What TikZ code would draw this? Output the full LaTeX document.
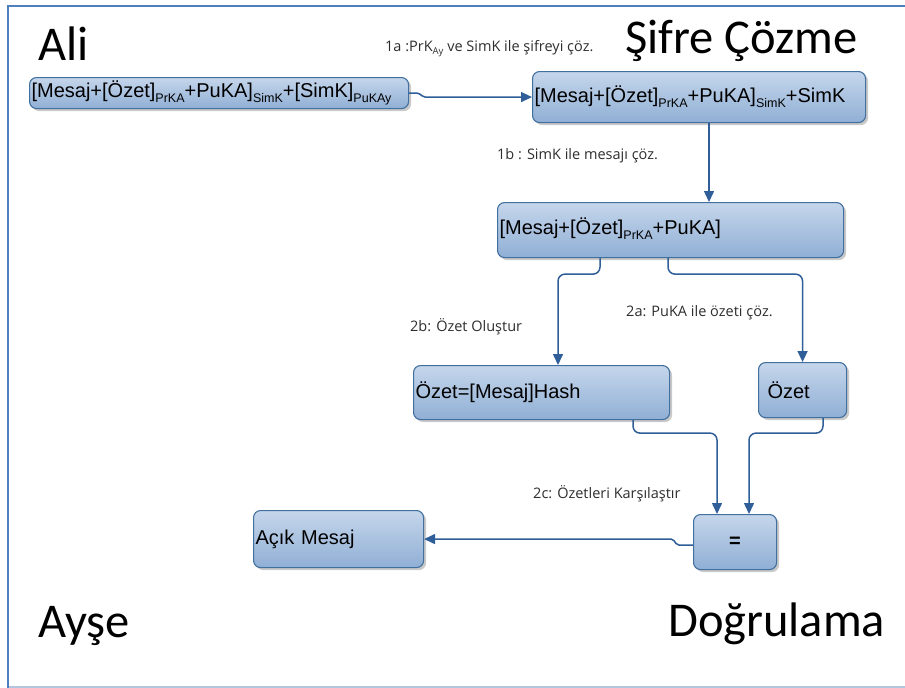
\documentclass[tikz,border=0pt]{standalone}
\usepackage{fontspec}
\setmainfont{Liberation Sans}
\newfontfamily\titlefont{Carlito}
\newfontfamily\notefont{Open Sans}
\newfontfamily\boxfont{Liberation Sans}
\usetikzlibrary{arrows.meta,shadows,calc}
\definecolor{framecol}{HTML}{4F7FBF}
\definecolor{framelight}{HTML}{B4C6DE}
\definecolor{boxline}{HTML}{41709F}
\definecolor{boxtop}{HTML}{C5D6EB}
\definecolor{boxbot}{HTML}{90AFD5}
\definecolor{conncol}{HTML}{2F5E99}
\definecolor{notecol}{HTML}{2E2E2E}
\newcommand{\lowtx}[1]{\raisebox{-0.25em}{\fontsize{12.5}{13}\selectfont #1}}
\newcommand{\lowsm}[1]{\raisebox{-0.25em}{\fontsize{9.5}{10}\selectfont #1}}
\tikzset{
  box/.style={draw=boxline, line width=1.1pt, rounded corners=7pt,
    top color=boxtop, bottom color=boxbot,
    drop shadow={shadow xshift=2.5pt, shadow yshift=-2.5pt, opacity=0.35, fill=black!60},
    font=\boxfont\fontsize{20}{23}\selectfont, anchor=north west,
    inner xsep=2pt, inner ysep=0pt, align=left},
  conn/.style={draw=conncol, line width=1.5pt, rounded corners=7pt,
    -{Triangle[length=11pt,width=10pt]}},
  title/.style={font=\titlefont\fontsize{48.5}{56}\selectfont, anchor=base west, inner sep=0pt},
  note/.style={font=\notefont\fontsize{14.5}{17}\selectfont, text=notecol, anchor=base west, inner sep=0pt}
}
\begin{document}
\begin{tikzpicture}[x=1pt,y=-1pt]
\useasboundingbox (0,0) rectangle (905,688);
\fill[white] (0,0) rectangle (905,688);
% outer frame
\draw[framelight, line width=1.5pt] (8,687) -- (905,687);
\draw[framecol, line width=2pt] (8,688) -- (8,6) -- (905,6);

% titles
\node[title] (ali) at (38,60) {Ali};
\node[title] (sifre) at (625,53) {Şifre Çözme};
\node[title] (ayse) at (38,637) {Ayşe};
\node[title] (dogru) at (668,636) {Doğrulama};

% boxes
\node[box, text width=375pt, minimum height=31pt] (a) at (29,77)
  {[Mesaj+[Özet]\lowtx{PrKA}+PuKA]\lowtx{SimK}+[SimK]\lowtx{PuKAy}};
\node[box, text width=329pt, minimum height=51pt] (b) at (532,71)
  {[Mesaj+[Özet]\lowtx{PrKA}+PuKA]\lowtx{SimK}+SimK};
\node[box, text width=342pt, minimum height=55pt, text depth=7pt] (c) at (497,202)
  {[Mesaj+[Özet]\lowtx{PrKA}+PuKA]};
\node[box, text width=252pt, minimum height=54pt] (d) at (413,365)
  {Özet=[Mesaj]Hash};
\node[box, text width=84pt, minimum height=55pt] (e) at (758,362)
  {\hspace*{7pt}Özet};
\node[box, text width=79pt, minimum height=55pt, align=center] (f) at (693,514)
  {\textbf{=}};
\node[box, text width=166pt, minimum height=57pt] (g) at (253,510)
  {Açık Mesaj};

% step notes
\node[note] (n1a) at (385,51)
  {1a :PrK\lowsm{Ay} ve SimK ile şifreyi çöz.};
\node[note] (n1b) at (497,159) {1b : SimK ile mesajı çöz.};
\node[note] (n2b) at (410,331) {2b: Özet Oluştur};
\node[note] (n2a) at (626,316) {2a: PuKA ile özeti çöz.};
\node[note] (n2c) at (533,498) {2c: Özetleri Karşılaştır};

% connector bend points
\coordinate (ab1) at ($(a.east)+(10,0)$);
\coordinate (ab2) at ($(ab1 |- b.west)+(4,0)$);
\coordinate (bc) at ($(b.south west)+(177,0)$);
\coordinate (cd) at ($(c.south west)+(103,0)$);
\coordinate (dtop) at ($(d.north west)+(145,0)$);
\coordinate (ce) at ($(c.south west)+(171,0)$);
\coordinate (df) at ($(d.south west)+(220,0)$);
\coordinate (fl) at ($(f.north west)+(24,0)$);
\coordinate (ef) at ($(e.south west)+(65,0)$);
\coordinate (fr) at ($(f.north west)+(56,0)$);
\coordinate (fg1) at ($(f.west)+(-16,3)$);
\coordinate (fg2) at ($(fg1 |- g.east)+(-4,0)$);

% connectors
\draw[conn, rounded corners=2pt] (a.east) -- (ab1) -- (ab2) -- (b.west);
\draw[conn] (bc) -- (bc |- c.north);
\draw[conn] (cd) -- ++(0,16) -| (dtop);
\draw[conn] (ce) -- ++(0,16) -| (e.north);
\draw[conn] (df) -- ++(0,13) -| (fl);
\draw[conn] (ef) -- ++(0,15) -| (fr);
\draw[conn, rounded corners=2pt] (f.west |- fg1) -- (fg1) -- (fg2) -- (g.east);
\end{tikzpicture}
\end{document}
